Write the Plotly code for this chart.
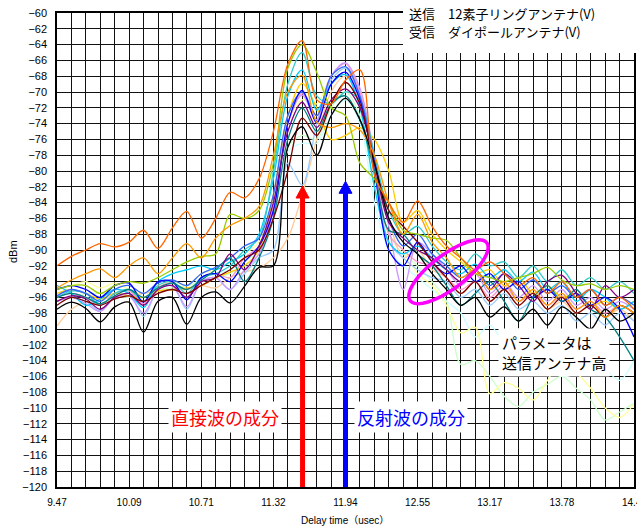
import math
import plotly.graph_objects as go

# Delay-time samples (usec), one per grid column
TIME_US = [9.470, 9.593, 9.717, 9.840, 9.963, 10.086, 10.209, 10.333, 10.456, 10.579,
           10.703, 10.826, 10.949, 11.072, 11.196, 11.319, 11.442, 11.565, 11.689, 11.812,
           11.935, 12.058, 12.182, 12.305, 12.428, 12.551, 12.675, 12.798, 12.921, 13.044,
           13.168, 13.291, 13.414, 13.537, 13.661, 13.784, 13.907, 14.030, 14.154, 14.277,
           14.400]
X_TICK_TEXT = ["9.47", "10.09", "10.71", "11.32", "11.94", "12.55", "13.17", "13.78", "14.40"]
DBM_TICKS = [-60, -62, -64, -66, -68, -70, -72, -74, -76, -78, -80, -82, -84, -86, -88, -90,
             -92, -94, -96, -98, -100, -102, -104, -106, -108, -110, -112, -114, -116, -118, -120]

# Received level (dBm) for each transmit-antenna height
lv_ccffff = [-96.0, -95.5, -96.0, -96.5, -95.5, -95.0, -96.0, -94.5, -94.0, -95.0, -93.5, -93.0, -92.5, -91.5,
             -90.0, -86.0, -77.5, -76.5, -76.5, -73.0, -71.0, -74.0, -84.0, -90.0, -92.0, -93.5, -95.0, -96.5,
             -98.0, -101.0, -99.5, -101.5, -100.0, -102.5, -104.5, -106.0, -105.5, -103.5, -105.0, -106.5, -104.0]
lv_ccffcc = [-96.5, -96.0, -95.5, -95.5, -95.8, -96.0, -95.5, -95.0, -94.8, -94.5, -94.0, -93.5, -93.0, -92.0,
             -90.5, -86.0, -77.0, -75.5, -76.0, -72.0, -70.0, -73.0, -82.0, -88.0, -90.5, -92.0, -94.0, -96.5,
             -104.5, -104.0, -106.0, -108.5, -109.8, -108.0, -107.0, -106.0, -107.5, -109.0, -111.5, -110.5, -109.4]
lv_ffff99 = [-95.0, -94.5, -94.0, -94.8, -94.2, -95.0, -95.5, -94.5, -94.0, -94.5, -93.0, -92.5, -91.5, -90.5,
             -89.0, -84.0, -74.0, -71.0, -71.5, -68.0, -66.9, -70.0, -80.0, -88.0, -90.0, -93.0, -94.5, -97.0,
             -100.5, -99.8, -108.2, -106.8, -107.5, -109.0, -106.5, -104.0, -105.5, -107.5, -110.0, -111.2, -109.5]
lv_ffcc99 = [-99.6, -97.5, -96.5, -96.2, -96.0, -95.8, -95.5, -95.2, -95.0, -95.0, -94.5, -94.8, -93.5, -92.8,
             -92.3, -91.0, -88.5, -83.0, -76.0, -70.0, -68.0, -71.0, -79.0, -86.0, -91.0, -90.0, -92.5, -93.5,
             -95.5, -94.0, -96.5, -95.0, -97.0, -95.5, -97.5, -96.5, -98.0, -97.0, -98.5, -97.5, -99.0]
lv_99ccff = [-96.5, -96.0, -96.5, -97.7, -96.0, -95.5, -98.4, -95.0, -94.5, -97.5, -94.0, -93.5, -95.0, -93.0,
             -91.0, -90.0, -79.0, -81.8, -74.0, -68.5, -67.0, -70.5, -80.0, -89.0, -91.0, -92.5, -93.5, -94.0,
             -96.0, -95.0, -97.0, -95.5, -97.5, -96.5, -98.0, -97.0, -99.0, -98.0, -99.5, -98.0, -99.0]
lv_ff99cc = [-96.0, -95.5, -96.0, -97.0, -95.5, -95.2, -96.8, -94.8, -94.2, -96.0, -93.5, -93.0, -93.5, -91.0,
             -89.5, -84.5, -74.0, -70.2, -73.0, -68.0, -66.4, -70.0, -79.0, -88.0, -90.0, -91.5, -92.0, -93.5,
             -95.0, -94.0, -96.0, -94.5, -96.5, -95.5, -97.0, -95.8, -97.5, -96.5, -98.0, -97.0, -98.0]
lv_cc99ff = [-96.5, -96.0, -96.8, -97.8, -96.0, -95.8, -98.0, -95.0, -94.5, -97.2, -94.0, -93.5, -95.0, -92.5,
             -90.5, -85.0, -74.0, -70.4, -73.5, -68.0, -66.3, -69.5, -78.0, -87.0, -95.0, -89.0, -90.5, -92.5,
             -94.5, -93.0, -95.5, -94.0, -96.0, -94.5, -96.5, -95.0, -97.0, -96.0, -97.5, -96.5, -97.5]
lv_ffcc00 = [-95.5, -95.0, -95.5, -96.2, -95.5, -95.8, -96.0, -95.2, -95.0, -94.8, -94.5, -93.5, -92.8, -92.0,
             -90.0, -83.0, -73.0, -68.9, -72.0, -76.0, -75.5, -74.5, -76.0, -80.0, -86.5, -85.0, -88.0, -90.0,
             -91.5, -93.0, -92.5, -94.5, -93.5, -95.5, -94.5, -96.0, -95.5, -97.0, -96.5, -97.5, -96.5]
lv_00ccff = [-94.5, -95.5, -97.0, -96.2, -95.0, -95.5, -97.3, -94.0, -93.0, -92.5, -92.0, -92.5, -91.5, -90.5,
             -88.0, -81.0, -70.5, -67.2, -72.3, -69.0, -67.8, -72.0, -82.0, -89.0, -90.5, -89.5, -91.0, -92.5,
             -93.0, -91.8, -93.5, -92.5, -94.0, -92.8, -95.0, -94.0, -96.5, -95.0, -96.0, -97.5, -96.5]
lv_33cccc = [-96.0, -95.2, -95.5, -97.0, -95.5, -95.0, -96.5, -94.5, -94.0, -95.5, -93.5, -93.0, -92.0, -90.0,
             -88.5, -80.0, -69.0, -65.0, -70.5, -71.5, -70.0, -71.0, -78.0, -85.0, -88.0, -87.0, -89.5, -91.5,
             -92.5, -90.5, -92.0, -91.5, -93.5, -92.0, -94.0, -92.5, -94.5, -93.5, -95.0, -94.0, -95.5]
lv_3366ff = [-95.8, -95.0, -95.5, -96.5, -95.0, -94.5, -95.5, -94.2, -93.8, -94.5, -93.0, -92.2, -91.0, -89.5,
             -88.5, -83.0, -73.0, -70.0, -73.0, -68.0, -66.8, -70.5, -78.5, -86.0, -89.5, -88.0, -90.5, -92.0,
             -93.5, -92.5, -94.5, -93.0, -95.0, -93.8, -95.5, -94.5, -96.0, -95.0, -97.0, -96.0, -97.0]
lv_0000ff = [-95.0, -94.5, -95.0, -96.0, -94.5, -94.2, -96.6, -94.0, -94.0, -96.3, -93.5, -93.0, -94.0, -91.5,
             -89.5, -85.0, -74.0, -69.8, -73.9, -69.0, -67.5, -71.0, -80.0, -90.0, -92.0, -89.0, -91.5, -93.0,
             -92.0, -94.0, -93.0, -95.0, -94.0, -96.0, -95.0, -96.5, -95.5, -97.0, -96.0, -97.5, -101.0]
lv_008080 = [-96.0, -95.5, -96.0, -96.8, -95.8, -95.0, -96.0, -94.8, -94.2, -95.0, -93.8, -92.5, -91.0, -94.0,
             -91.0, -86.0, -76.0, -72.0, -75.0, -71.5, -70.5, -73.5, -80.0, -87.5, -88.0, -90.5, -92.0, -94.5,
             -97.0, -95.5, -94.0, -96.5, -99.0, -96.0, -94.5, -96.5, -95.0, -97.5, -98.5, -101.0, -104.0]
lv_800080 = [-96.5, -95.8, -96.2, -97.5, -96.0, -95.5, -97.0, -95.0, -94.5, -96.0, -94.0, -93.5, -90.5, -92.5,
             -89.5, -84.0, -75.0, -71.3, -74.5, -71.0, -69.6, -72.0, -79.0, -86.5, -88.5, -90.0, -91.0, -92.5,
             -94.0, -92.5, -95.0, -93.0, -94.5, -96.5, -94.0, -93.2, -95.5, -97.5, -94.5, -96.0, -95.0]
lv_800000 = [-97.0, -96.0, -96.5, -97.0, -96.2, -95.8, -96.5, -95.5, -95.0, -95.5, -94.5, -93.5, -92.5, -91.0,
             -90.0, -86.0, -80.0, -73.3, -75.5, -71.5, -68.8, -71.5, -79.0, -85.0, -87.0, -89.0, -91.5, -93.5,
             -95.5, -94.0, -96.5, -95.0, -97.0, -95.5, -97.5, -96.0, -98.0, -97.0, -98.5, -97.0, -98.0]
lv_99cc00 = [-95.0, -94.5, -94.5, -95.5, -94.5, -94.0, -94.2, -93.5, -92.5, -91.5, -90.8, -90.5, -85.5, -86.0,
             -85.0, -79.0, -67.0, -64.0, -67.5, -72.0, -73.0, -79.0, -81.0, -84.0, -87.5, -88.0, -88.5, -88.8,
             -91.0, -93.0, -93.5, -94.0, -93.5, -93.0, -92.2, -93.8, -94.5, -94.3, -95.0, -94.5, -95.0]
lv_ff9900 = [-94.8, -93.8, -93.0, -92.4, -93.5, -92.0, -91.0, -93.0, -91.0, -89.2, -91.0, -88.5, -86.9, -86.0,
             -84.5, -78.0, -70.0, -67.9, -73.8, -74.5, -74.0, -74.8, -78.0, -84.0, -88.0, -85.5, -89.0, -91.0,
             -93.5, -92.5, -95.0, -94.0, -96.5, -95.0, -97.0, -95.5, -97.5, -96.5, -98.5, -97.0, -98.0]
lv_000000 = [-97.5, -96.6, -97.4, -99.1, -97.2, -96.6, -100.4, -96.5, -96.0, -99.4, -96.0, -95.3, -96.7, -94.6,
             -92.2, -92.0, -77.0, -74.4, -78.0, -73.0, -70.8, -73.5, -79.0, -86.0, -89.0, -90.5, -93.0, -95.0,
             -97.0, -96.0, -98.5, -97.2, -99.0, -97.5, -99.5, -97.2, -98.5, -100.0, -97.5, -99.0, -98.0]
lv_ff6600 = [-92.0, -90.8, -90.0, -89.2, -89.6, -89.0, -87.5, -89.8, -87.2, -85.1, -88.5, -86.0, -82.7, -83.4,
             -81.0, -75.0, -66.5, -63.5, -71.0, -71.5, -68.5, -67.2, -80.5, -84.0, -86.5, -83.8, -87.0, -89.5,
             -91.0, -92.5, -91.5, -93.0, -94.5, -93.5, -95.5, -94.0, -96.0, -95.0, -97.0, -96.0, -97.5]

TRACES = [
    ("#CCFFFF", lv_ccffff), ("#CCFFCC", lv_ccffcc), ("#FFFF99", lv_ffff99), ("#FFCC99", lv_ffcc99),
    ("#99CCFF", lv_99ccff), ("#FF99CC", lv_ff99cc), ("#CC99FF", lv_cc99ff), ("#FFCC00", lv_ffcc00),
    ("#00CCFF", lv_00ccff), ("#33CCCC", lv_33cccc), ("#3366FF", lv_3366ff), ("#0000FF", lv_0000ff),
    ("#008080", lv_008080), ("#800080", lv_800080), ("#800000", lv_800000), ("#99CC00", lv_99cc00),
    ("#FF9900", lv_ff9900), ("#000000", lv_000000), ("#FF6600", lv_ff6600),
]

X_MIN, X_MAX = 9.47, 14.40
Y_MIN, Y_MAX = -120, -60

# Arrow markers for the direct / reflected components
DIRECT_X, DIRECT_TIP = 11.568, -81.9
REFLECT_X, REFLECT_TIP = 11.935, -81.3
# Highlight ellipse (centre in data units, semi-axes in pixels, tilt in degrees)
ELL_CX, ELL_CY, ELL_A, ELL_B, ELL_TILT = 12.815, -92.75, 48, 17, 37

W, H = 637, 528
ML, MR, MT, MB = 57, 3, 13, 41
PW, PH = W - ML - MR, H - MT - MB
SX = PW / (X_MAX - X_MIN)   # px per usec
SY = PH / (Y_MAX - Y_MIN)   # px per dB

fig = go.Figure()
for color, vals in TRACES:
    fig.add_trace(go.Scatter(x=TIME_US, y=vals, mode="lines",
                             line=dict(color=color, width=1.3, shape="spline", smoothing=0.9),
                             showlegend=False, hoverinfo="skip"))

shapes = []
# legend text panel
shapes.append(dict(type="rect", xref="paper", yref="paper",
                   x0=(403 - ML) / PW, x1=1.02, y0=(H - MB - 53) / PH, y1=1.05,
                   fillcolor="white", line=dict(width=0), layer="above"))

def arrow(x, tip, color):
    head_h = 12 / SY
    head_w = 6.5 / SX
    shapes.append(dict(type="line", xref="x", yref="y", x0=x, x1=x, y0=Y_MIN, y1=tip - head_h + 0.2,
                       line=dict(color=color, width=5), layer="above"))
    shapes.append(dict(type="path", xref="x", yref="y",
                       path=f"M {x - head_w},{tip - head_h} L {x + head_w},{tip - head_h} L {x},{tip} Z",
                       fillcolor=color, line=dict(color=color, width=1), layer="above"))

arrow(DIRECT_X, DIRECT_TIP, "#FF0000")
arrow(REFLECT_X, REFLECT_TIP, "#0000FF")

pts = []
t = math.radians(ELL_TILT)
for i in range(73):
    p = 2 * math.pi * i / 72
    dx = ELL_A * math.cos(p) * math.cos(t) - ELL_B * math.sin(p) * math.sin(t)
    dy = ELL_A * math.cos(p) * math.sin(t) + ELL_B * math.sin(p) * math.cos(t)
    pts.append((ELL_CX + dx / SX, ELL_CY + dy / SY))
path = "M " + " L ".join(f"{px:.5f},{py:.4f}" for px, py in pts) + " Z"
shapes.append(dict(type="path", xref="x", yref="y", path=path,
                   line=dict(color="#FF00FF", width=3.5), layer="above"))

def px_x(px):
    return (px - ML) / PW

def px_y(py):
    return (H - MB - py) / PH

JP = "Noto Sans CJK JP"

def note(text, px, py, size, color, **kw):
    d = dict(text=text, x=px_x(px), y=px_y(py), xref="paper", yref="paper",
             xanchor=kw.pop("xanchor", "center"), yanchor="middle", showarrow=False,
             font=dict(family=kw.pop("family", JP), size=size, color=color))
    d.update(kw)
    return d

major_idx = [0, 5, 10, 15, 20, 25, 30, 35, 40]
xt_text = ["" for _ in TIME_US]
for k, lab in zip(major_idx[:-1], X_TICK_TEXT[:-1]):
    xt_text[k] = lab

annotations = [
    note("送信　12素子リングアンテナ(V)", 407, 14, 13, "black", xanchor="left"),
    note("受信　ダイポールアンテナ(V)", 407, 32, 13, "black", xanchor="left"),
    note("直接波の成分", 225, 417, 18, "#FF0000", bgcolor="white", borderpad=2),
    note("反射波の成分", 411, 417, 18, "#0000FF", bgcolor="white", borderpad=2),
    note("パラメータは<br>送信アンテナ高", 554, 352, 15, "black", bgcolor="white", borderpad=3, align="left"),
    note("dBm", 13, 252, 11, "black", textangle=-90, family="Liberation Sans, Arial"),
    note("Delay time（usec）", 345, 520, 10, "black", family="Liberation Sans, Noto Sans CJK JP"),
    # last x tick label sits on the right frame edge and runs off the page
    dict(text=X_TICK_TEXT[-1], x=TIME_US[major_idx[-1]], xref="x", y=px_y(502), yref="paper",
         xanchor="center", yanchor="middle", showarrow=False,
         font=dict(family="Liberation Sans, Arial", size=10, color="black")),
]

fig.update_layout(
    width=W, height=H, margin=dict(l=ML, r=MR, t=MT, b=MB, autoexpand=False),
    paper_bgcolor="white", plot_bgcolor="white",
    shapes=shapes, annotations=annotations, showlegend=False,
    xaxis=dict(range=[X_MIN, X_MAX], tickmode="array", tickvals=TIME_US, ticktext=xt_text,
               showgrid=True, gridcolor="#111111", gridwidth=1, zeroline=False,
               showline=True, linecolor="black", linewidth=1.5, mirror=True, ticks="",
               ticklabelstandoff=5, automargin=False,
               tickfont=dict(family="Liberation Sans, Arial", size=10, color="black")),
    yaxis=dict(range=[Y_MIN, Y_MAX], tickmode="array", tickvals=DBM_TICKS,
               showgrid=True, gridcolor="#111111", gridwidth=1, zeroline=False,
               showline=True, linecolor="black", linewidth=1.5, mirror=True, ticks="",
               ticklabelstandoff=6, automargin=False,
               tickfont=dict(family="Liberation Sans, Arial", size=11, color="black")),
)

fig.write_html("out.html")
